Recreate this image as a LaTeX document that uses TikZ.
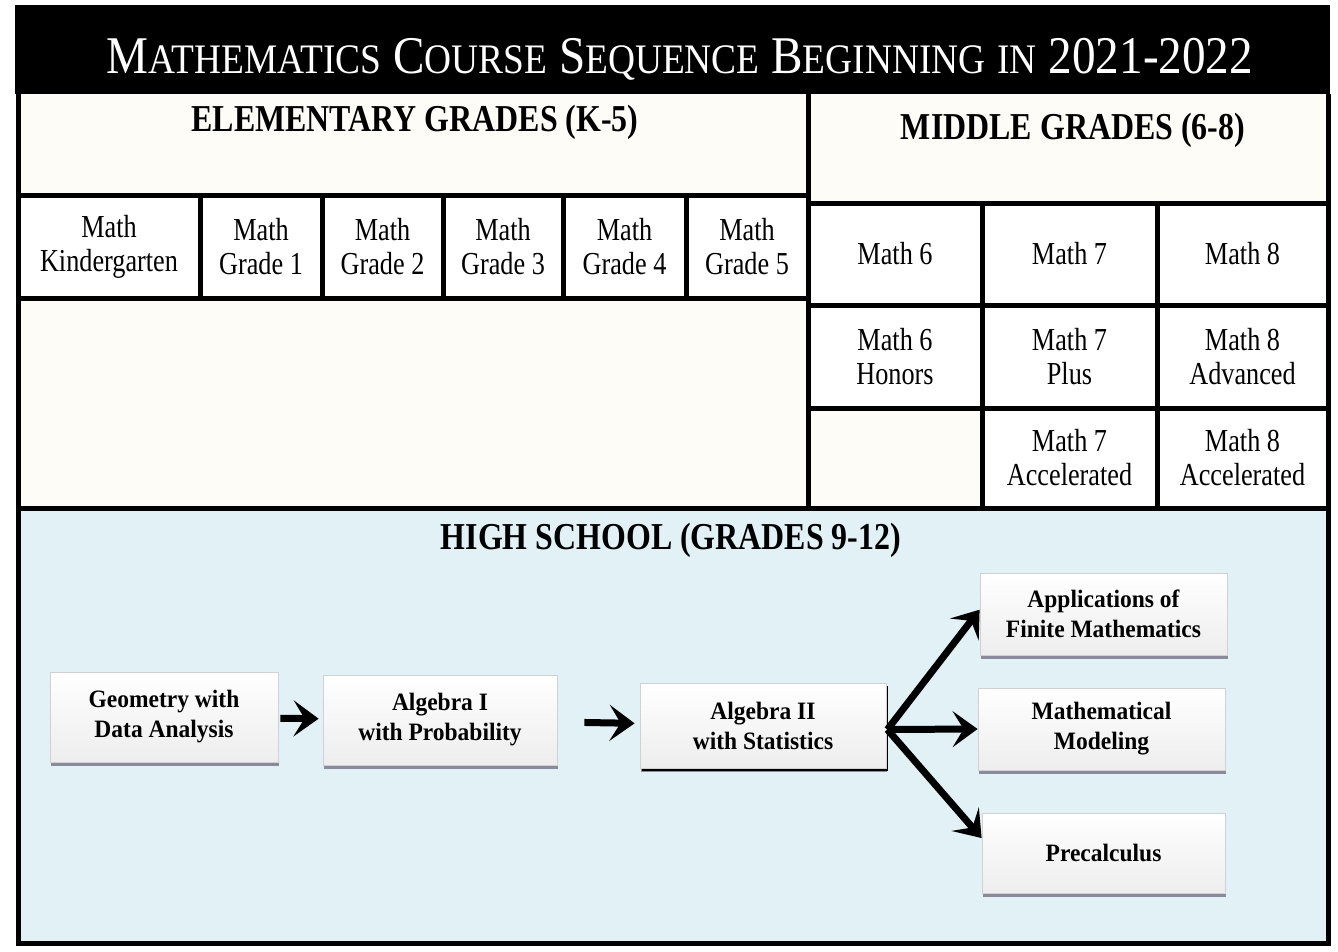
\documentclass[tikz,border=0pt]{standalone}
\usepackage{fontspec}
\setmainfont{Liberation Serif}
\newfontfamily\cellfont{Liberation Serif}[FakeStretch=0.82]
\newfontfamily\headfont{Liberation Serif}[FakeStretch=0.84]
\newfontfamily\hsfont{Liberation Serif}[FakeStretch=0.94]
\newfontfamily\titlefont{Liberation Serif}[FakeStretch=0.89]
\usetikzlibrary{arrows.meta,calc}

\definecolor{cream}{RGB}{253,252,246}
\definecolor{hsblue}{RGB}{225,241,246}
\definecolor{shadowgrey}{RGB}{138,138,156}

% small caps by hand for the title
\newcommand{\tbig}[1]{{\fontsize{53}{53}\selectfont #1}}
\newcommand{\tsmall}[1]{{\fontsize{42}{53}\selectfont #1}}

\tikzset{
  frame/.style={line width=5pt,line join=miter},
  cell/.style={draw=black,line width=5pt,fill=white,inner sep=0pt,align=center,
    font=\cellfont\fontsize{32}{34}\selectfont},
  head/.style={font=\headfont\bfseries\fontsize{38}{38}\selectfont},
  hsbox/.style={draw=black!18,line width=0.8pt,top color=white,bottom color=black!7,
    inner sep=0pt,align=center,font=\hsfont\bfseries\fontsize{25}{30}\selectfont,
    preaction={fill=shadowgrey,transform canvas={xshift=1pt,yshift=-4pt}}},
  arr/.style={draw=black,line width=7pt,
    -{Stealth[length=25pt,width=36pt,inset=11pt]}},
}

\begin{document}
\begin{tikzpicture}[x=1pt,y=-1pt]
\useasboundingbox[fill=white] (0,0) rectangle (1338,951);

% title bar
\fill[black] (15,5) rectangle (1330,94);
\node[text=white,font=\titlefont\fontsize{53}{53}\selectfont] (title) at (680,59)
  {\tbig{M}\tsmall{ATHEMATICS} \tbig{C}\tsmall{OURSE} \tbig{S}\tsmall{EQUENCE}
   \tbig{B}\tsmall{EGINNING} \tsmall{IN} \tbig{2021-2022}};

% section backgrounds
\fill[cream] (18,94) rectangle (808,508);
\fill[cream] (808,94) rectangle (1328,508);
\fill[hsblue] (18,508) rectangle (1328,943);

% elementary cells
\node[cell,minimum width=182pt,minimum height=103pt] (mk) at (109,246.5) {Math\\Kindergarten};
\node[cell,minimum width=122pt,minimum height=103pt] (m1) at (261,246.5) {Math\\Grade 1};
\node[cell,minimum width=121pt,minimum height=103pt] (m2) at (382.5,246.5) {Math\\Grade 2};
\node[cell,minimum width=120pt,minimum height=103pt] (m3) at (503,246.5) {Math\\Grade 3};
\node[cell,minimum width=123pt,minimum height=103pt] (m4) at (624.5,246.5) {Math\\Grade 4};
\node[cell,minimum width=122pt,minimum height=103pt] (m5) at (747,246.5) {Math\\Grade 5};

% middle cells
\node[cell,minimum width=174pt,minimum height=102pt] (m6) at (895,254) {Math 6};
\node[cell,minimum width=175pt,minimum height=102pt] (m7) at (1069.5,254) {Math 7};
\node[cell,minimum width=171pt,minimum height=102pt] (m8) at (1242.5,254) {Math 8};
\node[cell,minimum width=174pt,minimum height=103pt] (m6h) at (895,356.5) {Math 6\\Honors};
\node[cell,minimum width=175pt,minimum height=103pt] (m7p) at (1069.5,356.5) {Math 7\\Plus};
\node[cell,minimum width=171pt,minimum height=103pt] (m8a) at (1242.5,356.5) {Math 8\\Advanced};
\node[cell,fill=cream,minimum width=174pt,minimum height=100pt] (m6e) at (895,458) {};
\node[cell,minimum width=175pt,minimum height=100pt] (m7a) at (1069.5,458) {Math 7\\Accelerated};
\node[cell,minimum width=171pt,minimum height=100pt] (m8c) at (1242.5,458) {Math 8\\Accelerated};

% frame
\draw[frame] (18,94) -- (18,943) -- (1328,943) -- (1328,94);
\draw[frame] (808,94) -- (808,508);
\draw[frame] (18,508) -- (1328,508);

% headers
\node[head] (elemhead) at (415,122) {ELEMENTARY GRADES (K-5)};
\node[head] (midhead) at (1073,130) {MIDDLE GRADES (6-8)};
\node[head] (hshead) at (671,540) {HIGH SCHOOL (GRADES 9-12)};

% high school courses
\node[hsbox,minimum width=228pt,minimum height=90pt] (geo) at (164,717) {Geometry with\\Data Analysis};
\node[hsbox,minimum width=234pt,minimum height=90pt] (alg1) at (440,720) {Algebra I\\with Probability};
\node[hsbox,minimum width=246pt,minimum height=85pt,
  preaction={fill=black,transform canvas={xshift=2pt,yshift=-3pt}}] (alg2) at (763,725.5) {Algebra II\\with Statistics};
\node[hsbox,minimum width=247pt,minimum height=82pt] (app) at (1103.5,614) {Applications of\\Finite Mathematics};
\node[hsbox,minimum width=247pt,minimum height=82pt] (mod) at (1101.5,729) {Mathematical\\Modeling};
\node[hsbox,minimum width=243pt,minimum height=80pt] (pre) at (1103.5,853) {Precalculus};

\draw[arr,shorten <=2pt,shorten >=4pt] (geo) -- (alg1);
\draw[arr,shorten <=27pt,shorten >=5pt] (alg1) -- (alg2);
\coordinate (fork) at ($(alg2.east)+(1,4)$);
\draw[arr] (fork) -- (app.178);
\draw[arr] (fork) -- (mod.west);
\draw[arr] (fork) -- (pre.173);
\end{tikzpicture}
\end{document}
